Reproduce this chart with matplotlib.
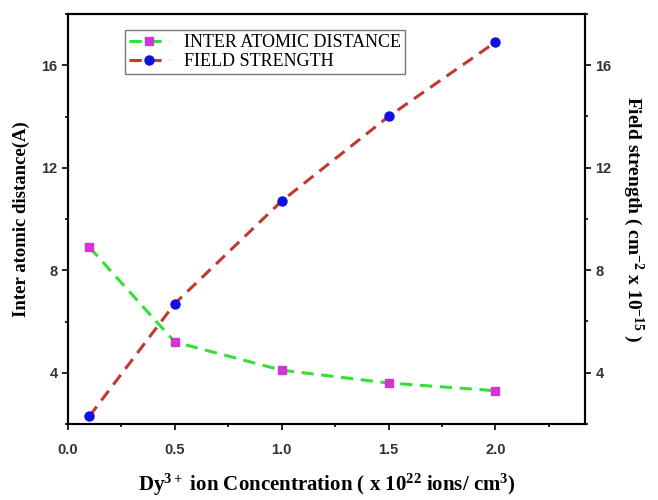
import matplotlib.pyplot as plt
from matplotlib.ticker import MultipleLocator

conc = [0.1, 0.5, 1.0, 1.5, 2.0]
distance = [8.9, 5.2, 4.1, 3.6, 3.3]
field = [2.3, 6.7, 10.7, 14.0, 16.9]

serif = ['Liberation Serif', 'DejaVu Serif']
sans = ['Liberation Sans', 'DejaVu Sans']
plt.rcParams['mathtext.fontset'] = 'custom'
plt.rcParams['mathtext.rm'] = 'Liberation Serif:bold'
plt.rcParams['mathtext.it'] = 'Liberation Serif:bold'
plt.rcParams['mathtext.bf'] = 'Liberation Serif:bold'

fig = plt.figure(figsize=(6.58, 5), dpi=100)
ax = fig.add_axes([0.1033, 0.152, 0.786, 0.82])
ax2 = ax.twinx()

l1, = ax.plot(conc, distance, color='#33e033', ls=(0, (4, 2.5)), lw=2.2,
              marker='s', ms=6, mfc='#d633d6', mec='#d633d6')
l2, = ax2.plot(conc, field, color='#c23a2e', ls=(0, (4, 2.5)), lw=2.2,
               marker='o', ms=6.5, mfc='#1010e0', mec='#1010e0')

for a in (ax, ax2):
    a.set_xlim(0, 2.42)
    a.set_ylim(2, 18)
    a.yaxis.set_major_locator(MultipleLocator(4))
    a.yaxis.set_minor_locator(MultipleLocator(2))
    a.tick_params(which='both', direction='out', width=1.2)
    a.tick_params(which='major', length=4)
    a.tick_params(which='minor', length=2.5)
    for s in a.spines.values():
        s.set_linewidth(1.5)
ax.xaxis.set_major_locator(MultipleLocator(0.5))
ax.xaxis.set_minor_locator(MultipleLocator(0.25))
ax.xaxis.set_major_formatter('{x:.1f}')
ax.tick_params(top=False, which='both')
ax.tick_params(axis='x', which='major', pad=10)

for lab in ax.get_xticklabels() + ax.get_yticklabels() + ax2.get_yticklabels():
    lab.set_family(sans)
    lab.set_fontweight('bold')
    lab.set_fontsize(10.5)
    lab.set_color('#333333')

ax.set_ylabel('Inter atomic distance(A)', family=serif, fontweight='bold',
              fontsize=13.5, labelpad=8)
ax2.set_ylabel(r'Field strength ( cm$^{-2}$ x 10$^{-15}$ )', family=serif,
               fontweight='bold', fontsize=14, rotation=-90, labelpad=24)
ax.set_xlabel(r'Dy$^{3+}$ ion Concentration ( x 10$^{22}$ ions/ cm$^{3}$)',
              family=serif, fontweight='bold', fontsize=15, labelpad=10)

ax.legend([l1, l2], ['INTER ATOMIC DISTANCE', 'FIELD STRENGTH'],
          loc='upper left', bbox_to_anchor=(0.11, 0.962),
          prop={'family': serif, 'size': 13}, frameon=True, fancybox=False,
          edgecolor='#555555', handlelength=2.2, borderpad=0.25,
          labelspacing=0.1, handletextpad=0.8, borderaxespad=0)

plt.savefig('out.png', dpi=100)
